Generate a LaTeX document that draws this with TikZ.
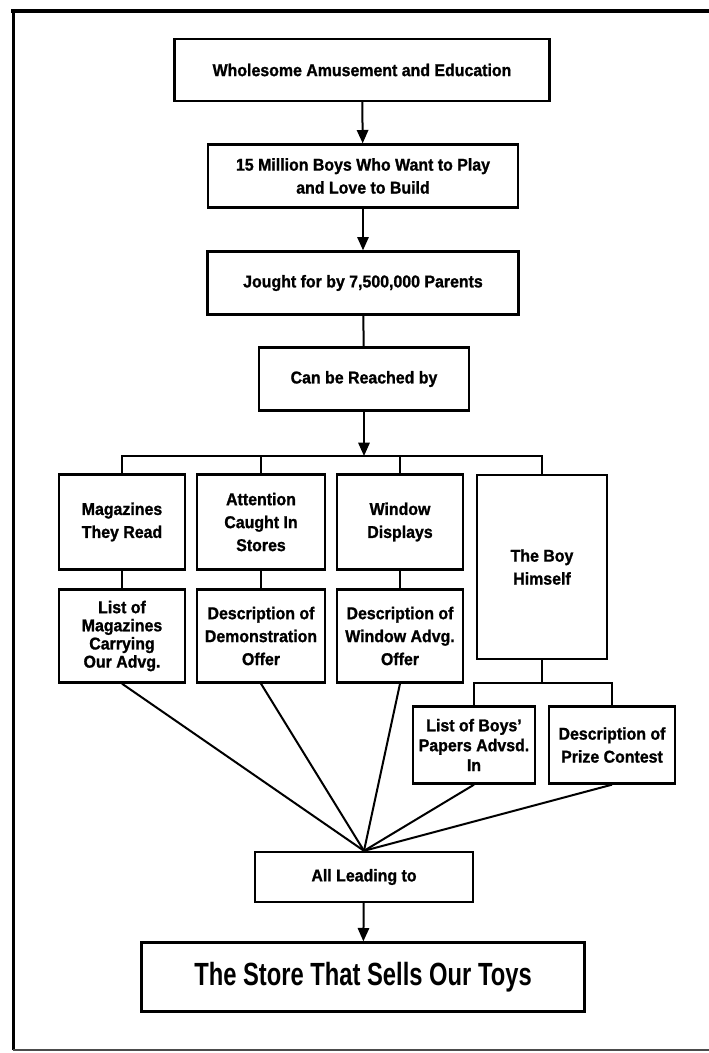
\documentclass[tikz,border=0pt]{standalone}
\usepackage{fontspec}
\setmainfont{Liberation Sans}[FakeStretch=0.93, BoldFeatures={FakeBold=1.2}]
\newfontfamily\storefont{Liberation Sans}[FakeStretch=0.74]
\usetikzlibrary{arrows.meta}

\begin{document}
\begin{tikzpicture}[x=0.3mm, y=-0.3mm,
	tbox/.style={draw, line width=0.7mm, align=center, inner sep=0pt,
		font=\fontsize{14.6}{19.6}\selectfont\bfseries},
	link/.style={line width=0.6mm},
	feed/.style={line width=0.6mm, -{Triangle[length=4mm, width=3.4mm]}}]
\useasboundingbox (0,0) rectangle (709,1053);
% frame
\draw [line width=0.9mm] (13,1050) -- (13,11);
\draw [line width=1.2mm] (11,11) -- (712,11);
\draw [line width=0.4mm, black!70] (13,1050) -- (712,1050);

% main column
\node [tbox, minimum width=112.5mm, minimum height=18.6mm] (whole) at (362,70) {Wholesome Amusement and Education};
\node [tbox, minimum width=93mm, minimum height=18.9mm] (boys) at (363,176) {15 Million Boys Who Want to Play\\and Love to Build};
\node [tbox, minimum width=93.3mm, minimum height=18.9mm] (bought) at (363,283) {Jought for by 7,500,000 Parents};
\node [tbox, minimum width=63mm, minimum height=18.9mm] (reach) at (364,379) {Can be Reached by};

% the four ways
\node [tbox, minimum width=37.8mm, minimum height=28.5mm] (mags) at (122,522) {Magazines\\They Read};
\node [tbox, minimum width=38.4mm, minimum height=28.5mm] (attn) at (261,522) {Attention\\Caught In\\Stores};
\node [tbox, minimum width=37.8mm, minimum height=28.5mm] (window) at (400,522) {Window\\Displays};
\node [tbox, minimum width=39mm, minimum height=55.2mm] (boy) at (542,567) {The Boy\\Himself};

\node [tbox, minimum width=37.8mm, minimum height=27.9mm, font=\fontsize{14.6}{15.5}\selectfont\bfseries] (maglist) at (122,636) {List of\\Magazines\\Carrying\\Our Advg.};
\node [tbox, minimum width=38.4mm, minimum height=27.9mm] (demo) at (261,636) {Description of\\Demonstration\\Offer};
\node [tbox, minimum width=37.8mm, minimum height=27.9mm] (windesc) at (400,636) {Description of\\Window Advg.\\Offer};
\node [tbox, minimum width=36.6mm, minimum height=23.1mm, font=\fontsize{14.6}{17}\selectfont\bfseries] (papers) at (474,745) {List of Boys'\\Papers Advsd.\\In};
\node [tbox, minimum width=37.8mm, minimum height=23.1mm] (prize) at (612,745) {Description of\\Prize Contest};

% bottom
\node [tbox, minimum width=65.4mm, minimum height=15mm] (lead) at (364,877) {All Leading to};
\node [tbox, minimum width=132.9mm, minimum height=20.7mm, font=\storefont\fontsize{27.4}{30}\selectfont\bfseries] (store) at (363,977) {The Store That Sells Our Toys};

\coordinate (bus) at (364,456);
\coordinate (fork) at (542,683);

\draw [feed] (whole) -- (boys);
\draw [feed] (boys) -- (bought);
\draw [link] (bought) -- (reach);
\draw [feed] (reach.south) -- (bus);
\draw [link] (mags.north) |- (bus) -| (boy.north);
\draw [link] (attn.north) -- (attn.north |- bus);
\draw [link] (window.north) -- (window.north |- bus);
\draw [link] (mags) -- (maglist);
\draw [link] (attn) -- (demo);
\draw [link] (window) -- (windesc);
\draw [link] (boy.south) -- (fork);
\draw [link] (papers.north) |- (fork) -| (prize.north);
\foreach \src in {maglist, demo, windesc, papers, prize}
	\draw [link] (\src.south) -- (lead.north);
\draw [feed] (lead) -- (store);
\end{tikzpicture}
\end{document}
